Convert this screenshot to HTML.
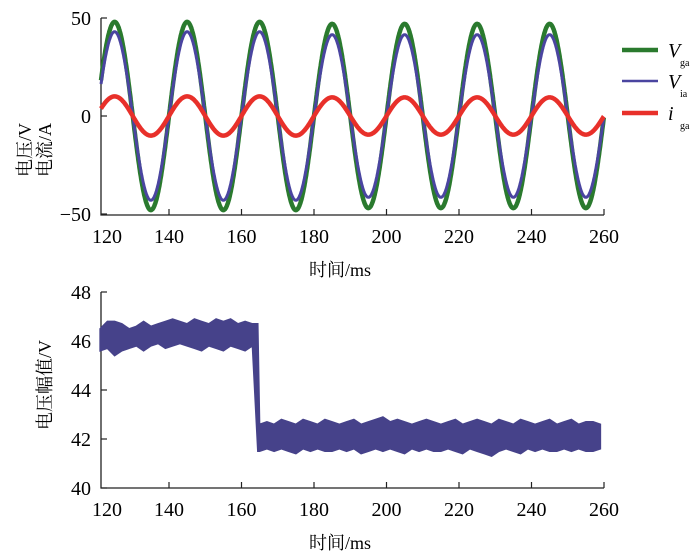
<!DOCTYPE html>
<html><head><meta charset="utf-8"><style>
body{margin:0;background:#fff}
svg{display:block;font-family:"Liberation Serif","Noto Serif CJK SC",serif}
</style></head><body>
<svg id="c" width="700" height="559">
<g id="gtop"></g>
<g id="gbot"></g>
<text transform="translate(31,150) rotate(-90)" text-anchor="middle" font-size="18">电压/V</text>
<text transform="translate(51,150) rotate(-90)" text-anchor="middle" font-size="18">电流/A</text>
<text x="340" y="276" text-anchor="middle" font-size="18">时间/ms</text>
<text transform="translate(51,385) rotate(-90)" text-anchor="middle" font-size="18">电压幅值/V</text>
<text x="340" y="549" text-anchor="middle" font-size="18">时间/ms</text>
</svg>
<script>
const xTicks=[120,140,160,180,200,220,240,260];
const yTicksTop=[-50,0,50];
const yTicksBot=[40,42,44,46,48];
const vgaAmp=[48,48,48,47,47,47,47];
const viaAmp=[43,43,43,41.5,41.5,41.5,41.5];
const igaAmp=[10,10,10,9.5,9.5,9.5,9.5];
const stepTime=164.5;
const bandT1=[121,123,125,127,129,131,133,135,137,139,141,143,145,147,149,151,153,155,157,159,161,163];
const bandHi1=[46.5,46.8,46.8,46.7,46.5,46.6,46.8,46.6,46.7,46.8,46.9,46.8,46.7,46.9,46.8,46.7,46.9,46.8,46.9,46.7,46.8,46.7];
const bandLo1=[45.6,45.7,45.4,45.6,45.7,45.8,45.6,45.8,45.9,45.7,45.8,45.9,45.8,45.7,45.6,45.8,45.7,45.6,45.8,45.7,45.6,45.8];
const bandHi2=[42.6,42.7,42.6,42.8,42.7,42.6,42.8,42.7,42.6,42.8,42.7,42.6,42.7,42.8,42.6,42.7,42.8,42.9,42.7,42.8,42.7,42.6,42.7,42.8,42.7,42.6,42.7,42.8,42.6,42.7,42.8,42.7,42.6,42.8,42.7,42.6,42.8,42.7,42.6,42.7,42.8,42.6,42.7,42.8,42.6,42.7,42.7,42.6];
const bandLo2=[41.5,41.6,41.5,41.6,41.5,41.4,41.6,41.5,41.6,41.5,41.5,41.6,41.5,41.6,41.4,41.5,41.6,41.5,41.6,41.5,41.4,41.6,41.5,41.6,41.5,41.5,41.6,41.5,41.4,41.6,41.5,41.4,41.3,41.5,41.6,41.5,41.4,41.6,41.5,41.6,41.5,41.5,41.6,41.5,41.6,41.5,41.5,41.6];
const NS="http://www.w3.org/2000/svg";
const X0=101,X1=604;
const tMin=121.24;
function xs(t){return 169+(t-140)*72.5/20;}
function yT(v){return 116-v*98/50;}
function yB(v){return 488-(v-40)*24.5;}
function mk(p,tag,a,txt){const e=document.createElementNS(NS,tag);for(const k in a)e.setAttribute(k,a[k]);if(txt!=null)e.textContent=txt;p.appendChild(e);return e;}
function axes(g,yf,yTop,yBot,yticks){
 let e=mk(g,'path',{d:`M${X0},${yTop}V${yBot}H${X1}`,fill:'none',stroke:'#222','stroke-width':1.3});
 
 
 xTicks.forEach(t=>{const xx=Math.max(X0,xs(t));
  if(t>120) mk(g,'line',{x1:xx,x2:xx,y1:yBot,y2:yBot-6,stroke:'#222','stroke-width':1.2});
  e=mk(g,'text',{x:xx+(t==120?6:0),y:yBot+28,'text-anchor':'middle','font-size':20},t);
  
  });
 yticks.forEach(v=>{const yy=yf(v);
  mk(g,'line',{x1:X0,x2:X0+6,y1:yy,y2:yy,stroke:'#222','stroke-width':1.2});
  e=mk(g,'text',{x:X0-10,y:yy+7,'text-anchor':'end','font-size':20},v<0?'\u2212'+(-v):v);
  
  });
}
const gTop=document.getElementById('gtop'),gBot=document.getElementById('gbot');
axes(gTop,yT,18,215,yTicksTop);
axes(gBot,yB,292,488,yTicksBot);
function wave(amps,col,w,name){let d='';for(let t=tMin;t<=260;t+=0.1){const k=Math.min(amps.length-1,Math.floor((t-120)/20));const v=amps[k]*Math.sin(2*Math.PI*(t-120)/20);d+=(d?'L':'M')+xs(t).toFixed(1)+','+yT(v).toFixed(1);}
 const e=mk(gTop,'path',{d,fill:'none',stroke:col,'stroke-width':w});
 
 }
wave(vgaAmp,'#2a7a2e',4.5,'series-vga');
wave(viaAmp,'#4a45a0',3,'series-via');
wave(igaAmp,'#e8302a',4.5,'series-iga');
let up=[],lo=[];
bandT1.forEach((t,i)=>{up.push([xs(t),yB(bandHi1[i])]);lo.push([xs(t),yB(bandLo1[i])]);});
up.push([xs(stepTime),yB(bandHi1[bandHi1.length-1])]);
lo.push([xs(stepTime),yB(bandLo2[0])]);
bandHi2.forEach((v,i)=>{const t=Math.min(165+i*2,259.5);up.push([xs(t),yB(v)]);lo.push([xs(t),yB(bandLo2[i])]);});
const pts=up.concat(lo.slice().reverse()).map(p=>p[0].toFixed(1)+','+p[1].toFixed(1)).join(' ');
let b=mk(gBot,'polygon',{points:pts,fill:'#46428a',stroke:'#46428a','stroke-width':1.5});


const svg=document.getElementById('c');
const leg=[['#2a7a2e','V','ga',50,4.5],['#4a45a0','V','ia',81,2.5],['#e8302a','i','ga',113,4.5]];
leg.forEach(l=>{const g=mk(svg,'g',{});
 
 
 mk(g,'line',{x1:622,x2:658,y1:l[3],y2:l[3],stroke:l[0],'stroke-width':l[4]});
 mk(g,'text',{x:668,y:l[3]+7,'font-size':20,'font-style':'italic'},l[1]);
 mk(g,'text',{x:680,y:l[3]+16,'font-size':10},l[2]);});
</script>
</body></html>
